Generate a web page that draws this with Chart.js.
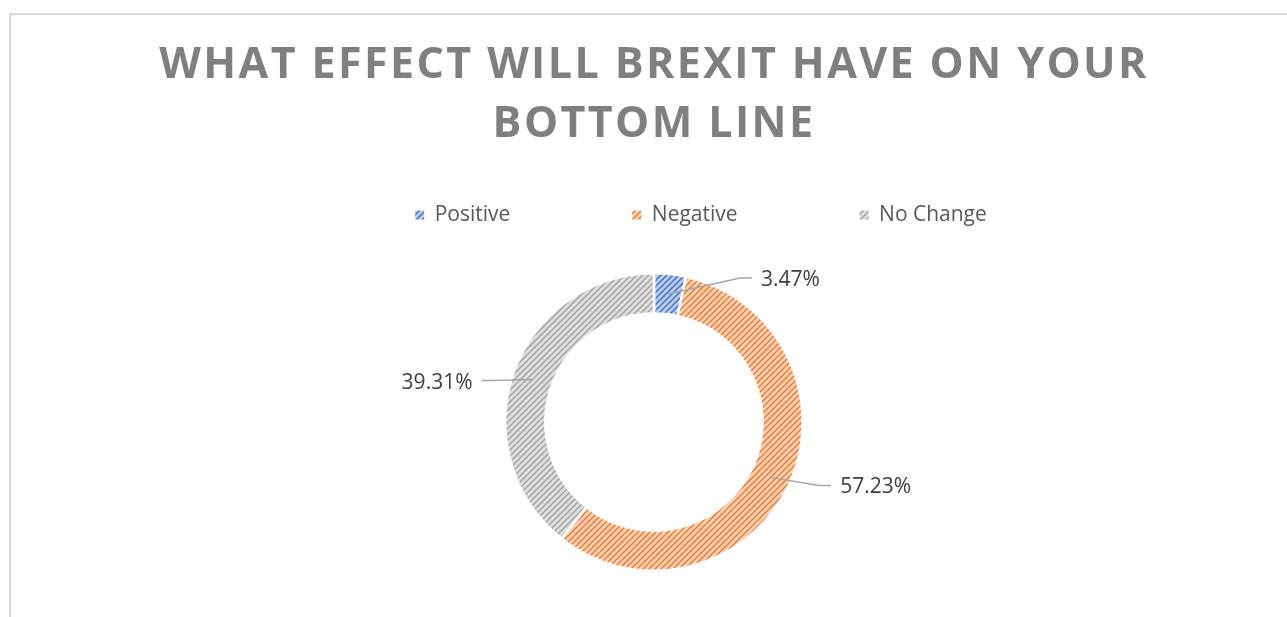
<!DOCTYPE html>
<html>
<head>
<meta charset="utf-8">
<script src="https://cdn.jsdelivr.net/npm/chart.js@4.4.0/dist/chart.umd.min.js"></script>
<style>
html, body { margin: 0; padding: 0; background: #fff; overflow: hidden; }
#wrap { position: relative; width: 1287px; height: 617px; }
#frame { position: absolute; left: 9px; top: 13px; width: 1300px; height: 620px; border-left: 2px solid #d9d9d9; border-top: 2px solid #d9d9d9; }
canvas { position: absolute; left: 0; top: 0; }
</style>
</head>
<body>
<div id="wrap"><div id="frame"></div><canvas id="chart" width="1287" height="617"></canvas></div>
<script>
var titleLines = ['WHAT EFFECT WILL BREXIT HAVE ON YOUR', 'BOTTOM LINE'];
var categories = ['Positive', 'Negative', 'No Change'];
var shares = [3.47, 57.23, 39.31];
var lineColors = ['#4472c4', '#ed7d31', '#a5a5a5'];
var tintColors = ['#bccdee', '#f9d2b8', '#dedede'];
// where each leader line bends, relative to the middle of its slice
var labelOffsets = [[72, -16], [49, 8], [-39, 1]];
var legendMidX = 701, legendMidY = 215;
var legendFontSize = 21;

var canvas = document.getElementById('chart');
var ctx = canvas.getContext('2d');

// hatched fill like the excel pattern fill
function hatch(bg, fg) {
	var tile = document.createElement('canvas');
	tile.width = 6; tile.height = 6;
	var t = tile.getContext('2d');
	t.fillStyle = bg;
	t.fillRect(0, 0, 6, 6);
	t.strokeStyle = fg;
	t.lineWidth = 1.5;
	t.beginPath();
	t.moveTo(0, 6); t.lineTo(6, 0);
	t.moveTo(-1, 1); t.lineTo(1, -1);
	t.moveTo(5, 7); t.lineTo(7, 5);
	t.stroke();
	return ctx.createPattern(tile, 'repeat');
}
var fills = [];
for (var i = 0; i < categories.length; i++) {
	fills[i] = hatch(tintColors[i], lineColors[i]);
}

var layoutFix = {
	id: 'layoutFix',
	afterInit: function(chart) {
		// spaced out title letters
		var tb = chart.titleBlock;
		var orig = tb.draw;
		tb.draw = function() {
			this.ctx.save();
			this.ctx.letterSpacing = '2.4px';
			orig.apply(this, arguments);
			this.ctx.restore();
		};
	},
	afterLayout: function(chart) {
		// big label padding pushes the items down, so move the legend box back up
		var lg = chart.legend;
		var pad = lg.options.labels.padding;
		var dy = legendMidY - (lg.top + pad + legendFontSize / 2);
		var dx = legendMidX - (lg.left + lg.right) / 2;
		lg.top += dy;
		lg.bottom = legendMidY + 20;
		lg.left += dx; lg.right += dx;
	}
};

var sliceLabels = {
	id: 'sliceLabels',
	afterDatasetsDraw: function(chart) {
		var c = chart.ctx;
		var arcs = chart.getDatasetMeta(0).data;
		c.save();
		c.font = '21px "Open Sans"';
		c.textBaseline = 'middle';
		arcs.forEach(function(arc, i) {
			var p = arc.getProps(['x', 'y', 'startAngle', 'endAngle', 'innerRadius', 'outerRadius']);
			var a = (p.startAngle + p.endAngle) / 2;
			var r = (p.innerRadius + p.outerRadius) / 2;
			var x0 = p.x + Math.cos(a) * r, y0 = p.y + Math.sin(a) * r;
			var x1 = x0 + labelOffsets[i][0], y1 = y0 + labelOffsets[i][1];
			var dir = labelOffsets[i][0] < 0 ? -1 : 1;
			var x2 = x1 + dir * 12;
			c.strokeStyle = '#a6a6a6';
			c.lineWidth = 1.5;
			c.beginPath();
			c.moveTo(x0, y0); c.lineTo(x1, y1); c.lineTo(x2, y1);
			c.stroke();
			c.fillStyle = '#404040';
			c.textAlign = dir < 0 ? 'right' : 'left';
			c.fillText(shares[i].toFixed(2) + '%', x2 + dir * 9, y1 + 2);
		});
		c.restore();
	}
};

var chart = new Chart(ctx, {
	type: 'doughnut',
	data: {
		labels: categories,
		datasets: [{
			data: shares,
			backgroundColor: fills,
			borderColor: '#ffffff',
			borderWidth: 2.5
		}]
	},
	options: {
		responsive: false,
		animation: false,
		cutout: '73%',
		layout: { padding: { left: 21, right: 0, top: 0, bottom: 45 } },
		plugins: {
			title: {
				display: true,
				text: titleLines,
				color: '#7f7f7f',
				font: { family: 'Open Sans', size: 43, weight: 'bold', lineHeight: 1.372 },
				padding: { top: 36, bottom: 0 }
			},
			legend: {
				position: 'top',
				maxHeight: 118,
				labels: {
					boxWidth: 9,
					boxHeight: 9,
					padding: 122,
					color: '#595959',
					font: { family: 'Open Sans', size: legendFontSize },
					generateLabels: function(chart) {
						var items = Chart.overrides.doughnut.plugins.legend.labels.generateLabels(chart);
						items.forEach(function(it) { it.lineWidth = 0; });
						return items;
					}
				}
			},
			tooltip: { enabled: false }
		}
	},
	plugins: [layoutFix, sliceLabels]
});
</script>
</body>
</html>
